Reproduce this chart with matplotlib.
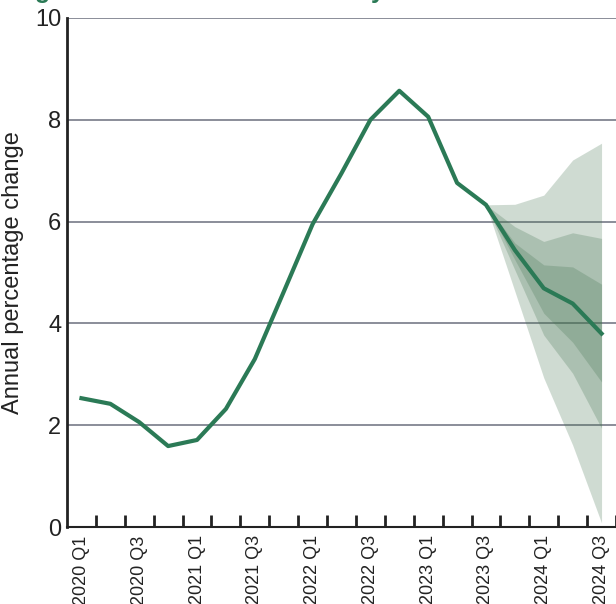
import matplotlib
matplotlib.use('Agg')
import matplotlib.pyplot as plt
import numpy as np

plt.rcParams['font.family'] = ['Liberation Sans', 'DejaVu Sans']

quarters = ['2020 Q1', '2020 Q2', '2020 Q3', '2020 Q4',
            '2021 Q1', '2021 Q2', '2021 Q3', '2021 Q4',
            '2022 Q1', '2022 Q2', '2022 Q3', '2022 Q4',
            '2023 Q1', '2023 Q2', '2023 Q3', '2023 Q4',
            '2024 Q1', '2024 Q2', '2024 Q3']

# central projection / outturn
inflation = [2.53, 2.42, 2.06, 1.59, 1.71, 2.32, 3.30, 4.62, 5.95, 6.95,
             8.00, 8.57, 8.06, 6.76, 6.33, 5.44, 4.69, 4.39, 3.80]

# fan bands start at 2023 Q3
fan_quarters = ['2023 Q3', '2023 Q4', '2024 Q1', '2024 Q2', '2024 Q3']
outer_hi = [6.33, 6.34, 6.52, 7.21, 7.54]
outer_lo = [6.33, 4.63, 2.93, 1.61, 0.08]
mid_hi = [6.33, 5.90, 5.61, 5.78, 5.67]
mid_lo = [6.33, 5.05, 3.77, 3.02, 1.94]
inner_hi = [6.33, 5.58, 5.15, 5.11, 4.77]
inner_lo = [6.33, 5.25, 4.20, 3.63, 2.85]

x = np.arange(len(quarters))
xf = np.array([quarters.index(q) for q in fan_quarters])

fig = plt.figure(figsize=(6.16, 6.04), dpi=100)
ax = fig.add_axes([67/616, 77/604, 1 - 67/616, (527 - 18)/604])

fan_col = '#43734f'
for lo, hi in [(outer_lo, outer_hi), (mid_lo, mid_hi), (inner_lo, inner_hi)]:
    ax.fill_between(xf, lo, hi, color=fan_col, alpha=0.25, lw=0, zorder=3)

ax.plot(x, inflation, color='#2b7a56', lw=3, zorder=4, solid_joinstyle='round')

ax.set_xlim(-0.5, 18.5)
ax.set_ylim(0, 10)
ax.set_yticks([0, 2, 4, 6, 8, 10])
ax.yaxis.grid(True, color='#8a8d99', lw=1.4, zorder=1)
ax.set_axisbelow(True)
ax.tick_params(axis='y', length=0, labelsize=17, labelcolor='#222222', pad=4)

ax.set_xticks(x[::2])
ax.set_xticklabels(quarters[::2], rotation=90, fontsize=13, color='#222222')
ax.set_xticks(np.arange(0.5, 19, 1), minor=True)
ax.tick_params(axis='x', which='major', length=0, pad=6)
ax.tick_params(axis='x', which='minor', direction='in', length=9, width=2, color='#222222')

for s in ['top', 'right']:
    ax.spines[s].set_visible(False)
ax.spines['left'].set_color('#222222')
ax.spines['left'].set_linewidth(2)
ax.spines['bottom'].set_color('#222222')
ax.spines['bottom'].set_linewidth(1.5)
ax.spines['left'].set_zorder(5)

ax.set_ylabel('Annual percentage change', fontsize=17, color='#222222', labelpad=8)

# title sits above the visible area; only descenders show
title_col = '#2b7a56'
fig.text(35/616, 1.0 + 2/604, 'g', color=title_col, fontsize=18, fontweight='bold', va='baseline')
fig.text(371/616, 1.0 + 2/604, 'y', color=title_col, fontsize=18, fontweight='bold', va='baseline')

fig.savefig('out.png', dpi=100)
